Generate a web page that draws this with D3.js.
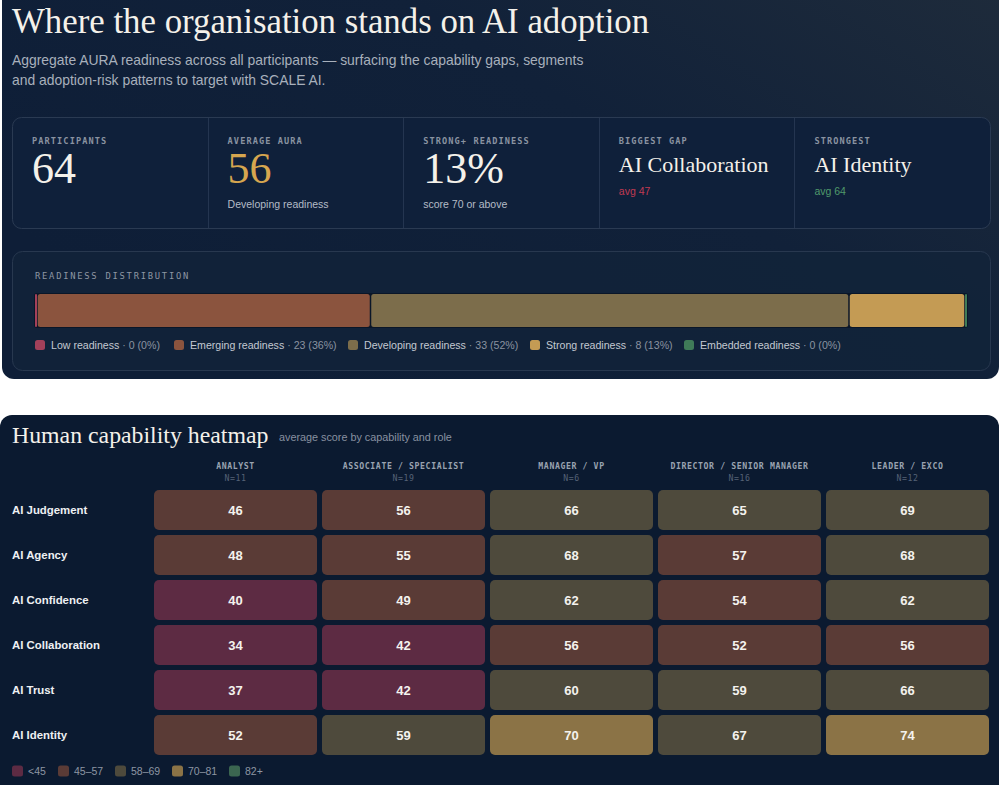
<!DOCTYPE html>
<html>
<head>
<meta charset="utf-8">
<script src="https://cdn.jsdelivr.net/npm/d3@7"></script>
<style>
  html, body { margin: 0; padding: 0; background: #ffffff; }
  svg { display: block; }
</style>
</head>
<body>
<div id="chart"></div>
<script>
// ---- data ----
var kpiLabels = ["PARTICIPANTS", "AVERAGE AURA", "STRONG+ READINESS", "BIGGEST GAP", "STRONGEST"];
var kpiValues = ["64", "56", "13%", "AI Collaboration", "AI Identity"];
var kpiNotes = ["", "Developing readiness", "score 70 or above", "avg 47", "avg 64"];

var bandNames = ["Low readiness", "Emerging readiness", "Developing readiness", "Strong readiness", "Embedded readiness"];
var bandCounts = [0, 23, 33, 8, 0];
var bandPct = [0, 36, 52, 13, 0];

var roles = ["ANALYST", "ASSOCIATE / SPECIALIST", "MANAGER / VP", "DIRECTOR / SENIOR MANAGER", "LEADER / EXCO"];
var roleN = [11, 19, 6, 16, 12];
var capabilities = ["AI Judgement", "AI Agency", "AI Confidence", "AI Collaboration", "AI Trust", "AI Identity"];
var scores = [
  [46, 56, 66, 65, 69],
  [48, 55, 68, 57, 68],
  [40, 49, 62, 54, 62],
  [34, 42, 56, 52, 56],
  [37, 42, 60, 59, 66],
  [52, 59, 70, 67, 74]
];
var binLabels = ["<45", "45\u201357", "58\u201369", "70\u201381", "82+"];
var binBreaks = [45, 58, 70, 82];

// ---- styling ----
var svgWidth = 1000, svgHeight = 785;
var serif = "'Liberation Serif', 'DejaVu Serif', serif";
var sans = "'Liberation Sans', Arial, sans-serif";
var mono = "'DejaVu Sans Mono', 'Liberation Mono', monospace";
var bandColors = ["#a3405a", "#8b543e", "#7c6d4b", "#c49b54", "#3f7b58"];
var heatColors = ["#5d2b43", "#5a3b36", "#4e4a3c", "#8b7346", "#3b6650"];

var svg = d3.select("#chart").append("svg")
  .attr("width", svgWidth)
  .attr("height", svgHeight);

var defs = svg.append("defs");
var grad = defs.append("linearGradient").attr("id", "topbg")
  .attr("x1", "0").attr("y1", "0.6").attr("x2", "1").attr("y2", "0");
grad.append("stop").attr("offset", "0").attr("stop-color", "#0e1e37");
grad.append("stop").attr("offset", "0.55").attr("stop-color", "#112139");
grad.append("stop").attr("offset", "1").attr("stop-color", "#1e2b3b");

// ================= top panel =================
svg.append("rect")
  .attr("x", 2).attr("y", -14).attr("width", 997).attr("height", 393)
  .attr("rx", 12).attr("fill", "url(#topbg)");

svg.append("text")
  .attr("x", 12).attr("y", 33)
  .attr("font-family", serif).attr("font-size", 34.8)
  .attr("fill", "#f4f1ea")
  .text("Where the organisation stands on AI adoption");

var subLines = [
  "Aggregate AURA readiness across all participants \u2014 surfacing the capability gaps, segments",
  "and adoption-risk patterns to target with SCALE AI."
];
svg.selectAll(".sub").data(subLines).enter().append("text")
  .attr("class", "sub")
  .attr("x", 12).attr("y", (d, i) => 65 + i * 20)
  .attr("font-family", sans).attr("font-size", 13.9)
  .attr("fill", "#a8b0bc")
  .text(d => d);

// KPI card
var card = { x: 12, y: 117, w: 978, h: 111 };
svg.append("rect")
  .attr("x", card.x + 0.5).attr("y", card.y + 0.5)
  .attr("width", card.w).attr("height", card.h)
  .attr("rx", 9).attr("fill", "#0f203a")
  .attr("stroke", "#2a3a52").attr("stroke-width", 1);

var kpiX = d3.scaleBand().domain(d3.range(kpiLabels.length))
  .range([card.x, card.x + card.w]);

svg.selectAll(".kdiv").data(d3.range(1, kpiLabels.length)).enter().append("line")
  .attr("class", "kdiv")
  .attr("x1", d => Math.round(kpiX(d)) + 0.5).attr("x2", d => Math.round(kpiX(d)) + 0.5)
  .attr("y1", card.y + 1).attr("y2", card.y + card.h)
  .attr("stroke", "#243550");

var kpi = svg.selectAll(".kpi").data(kpiLabels).enter().append("g")
  .attr("class", "kpi")
  .attr("transform", (d, i) => `translate(${kpiX(i) + 20}, 0)`);

kpi.append("text")
  .attr("y", 144)
  .attr("font-family", mono).attr("font-size", 8.6).attr("font-weight", "bold")
  .attr("letter-spacing", 1.1)
  .attr("fill", "#8a93a1")
  .text(d => d);

kpi.append("text")
  .attr("y", (d, i) => i < 3 ? 183 : 172)
  .attr("font-family", serif)
  .attr("font-size", (d, i) => i < 3 ? 44 : 22)
  .attr("fill", (d, i) => i === 1 ? "#d6a64f" : "#f4f1ea")
  .text((d, i) => kpiValues[i]);

kpi.append("text")
  .attr("y", (d, i) => i < 3 ? 208 : 195)
  .attr("font-family", sans).attr("font-size", 10.5)
  .attr("fill", (d, i) => i === 3 ? "#c13a52" : i === 4 ? "#4f9a6b" : "#b4bcc7")
  .text((d, i) => kpiNotes[i]);

// distribution card
var dcard = { x: 12, y: 251, w: 978, h: 119 };
svg.append("rect")
  .attr("x", dcard.x + 0.5).attr("y", dcard.y + 0.5)
  .attr("width", dcard.w).attr("height", dcard.h)
  .attr("rx", 10).attr("fill", "#12233a").attr("fill-opacity", 0.85)
  .attr("stroke", "#28384f");

svg.append("text")
  .attr("x", 35).attr("y", 279)
  .attr("font-family", mono).attr("font-size", 8.8)
  .attr("letter-spacing", 1.75)
  .attr("fill", "#8d96a3")
  .text("READINESS DISTRIBUTION");

var barX0 = 35, barX1 = 967, barY = 294, barH = 33, sliver = 2;
var total = d3.sum(bandCounts);
var nZero = bandCounts.filter(c => c === 0).length;
var xBar = d3.scaleLinear().domain([0, total]).range([0, barX1 - barX0 - nZero * sliver]);
var cursor = barX0;
var segs = bandCounts.map((c, i) => {
  var w = c === 0 ? sliver : xBar(c);
  var s = { i: i, x: cursor, w: w };
  cursor += w;
  return s;
});

svg.append("rect")
  .attr("x", barX0 - 1).attr("y", barY - 1).attr("width", barX1 - barX0 + 2).attr("height", barH + 2)
  .attr("rx", 3).attr("fill", "#0a1628");

svg.selectAll(".seg").data(segs).enter().append("rect")
  .attr("class", "seg")
  .attr("x", d => d.x + (bandCounts[d.i] ? 0.75 : 0))
  .attr("y", barY)
  .attr("width", d => bandCounts[d.i] ? d.w - 1.5 : d.w)
  .attr("height", barH)
  .attr("rx", d => bandCounts[d.i] ? 2.5 : 1)
  .attr("fill", d => bandColors[d.i]);

var legX = [35, 174, 348, 530, 684];
var leg = svg.selectAll(".leg").data(bandNames).enter().append("g")
  .attr("class", "leg")
  .attr("transform", (d, i) => `translate(${legX[i]}, 345)`);
leg.append("rect")
  .attr("x", 0).attr("y", -5).attr("width", 10).attr("height", 10).attr("rx", 2.5)
  .attr("fill", (d, i) => bandColors[i]);
var legText = leg.append("text")
  .attr("x", 16).attr("y", 4)
  .attr("font-family", sans).attr("font-size", 10.6);
legText.append("tspan").attr("fill", "#c3c9d2").text(d => d);
legText.append("tspan").attr("fill", "#8a93a0")
  .text((d, i) => `  \u00b7 ${bandCounts[i]} (${bandPct[i]}%)`);

// ================= heatmap panel =================
svg.append("rect")
  .attr("x", 0).attr("y", 415).attr("width", 999).attr("height", 385)
  .attr("rx", 12).attr("fill", "#0b1a30");

svg.append("text")
  .attr("x", 12).attr("y", 443)
  .attr("font-family", serif).attr("font-size", 23.8)
  .attr("fill", "#f4f1ea")
  .text("Human capability heatmap");

svg.append("text")
  .attr("x", 279).attr("y", 441)
  .attr("font-family", sans).attr("font-size", 10.8)
  .attr("fill", "#8891a0")
  .text("average score by capability and role");

var xCol = d3.scaleBand().domain(roles).range([154, 989]).paddingInner(5 / 168).paddingOuter(0);
var yRow = d3.scaleBand().domain(capabilities).range([490, 755]).paddingInner(5 / 45).paddingOuter(0);
var color = d3.scaleThreshold().domain(binBreaks).range(heatColors);

var head = svg.selectAll(".colhead").data(roles).enter().append("g")
  .attr("class", "colhead")
  .attr("transform", d => `translate(${xCol(d) + xCol.bandwidth() / 2}, 0)`);
head.append("text")
  .attr("y", 469).attr("text-anchor", "middle")
  .attr("font-family", mono).attr("font-size", 8.2).attr("font-weight", "bold")
  .attr("letter-spacing", 0.6)
  .attr("fill", "#9aa3b0")
  .text(d => d);
head.append("text")
  .attr("y", 481).attr("text-anchor", "middle")
  .attr("font-family", mono).attr("font-size", 8.2)
  .attr("letter-spacing", 0.6)
  .attr("fill", "#566276")
  .text((d, i) => "N=" + roleN[i]);

svg.selectAll(".rowlab").data(capabilities).enter().append("text")
  .attr("class", "rowlab")
  .attr("x", 12).attr("y", d => yRow(d) + yRow.bandwidth() / 2 + 4)
  .attr("font-family", sans).attr("font-size", 11.4).attr("font-weight", "bold")
  .attr("fill", "#eef0f3")
  .text(d => d);

var cells = [];
scores.forEach((row, r) => row.forEach((v, c) => cells.push({ cap: capabilities[r], role: roles[c], v: v })));

svg.selectAll(".cell").data(cells).enter().append("rect")
  .attr("class", "cell")
  .attr("x", d => xCol(d.role)).attr("y", d => yRow(d.cap))
  .attr("width", xCol.bandwidth()).attr("height", yRow.bandwidth())
  .attr("rx", 5)
  .attr("fill", d => color(d.v));

svg.selectAll(".cellv").data(cells).enter().append("text")
  .attr("class", "cellv")
  .attr("x", d => xCol(d.role) + xCol.bandwidth() / 2)
  .attr("y", d => yRow(d.cap) + yRow.bandwidth() / 2 + 4.5)
  .attr("text-anchor", "middle")
  .attr("font-family", sans).attr("font-size", 13).attr("font-weight", "bold")
  .attr("fill", "#f4f2ee")
  .text(d => d.v);

var hlegX = [12, 58, 115, 172, 229];
var hleg = svg.selectAll(".hleg").data(binLabels).enter().append("g")
  .attr("class", "hleg")
  .attr("transform", (d, i) => `translate(${hlegX[i]}, 771)`);
hleg.append("rect")
  .attr("x", 0).attr("y", -5.5).attr("width", 11).attr("height", 11).attr("rx", 2.5)
  .attr("fill", (d, i) => heatColors[i]);
hleg.append("text")
  .attr("x", 16).attr("y", 4)
  .attr("font-family", sans).attr("font-size", 10.5)
  .attr("fill", "#8d96a3")
  .text(d => d);
</script>
</body>
</html>
